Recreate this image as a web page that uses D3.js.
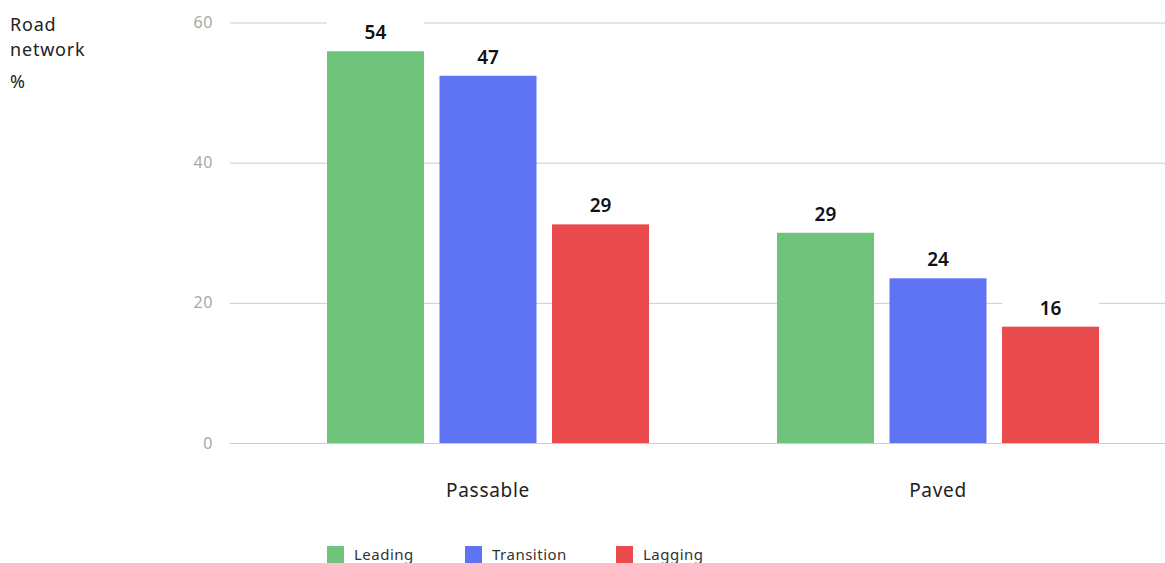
<!DOCTYPE html>
<html>
<head>
<meta charset="utf-8">
<script src="https://cdn.jsdelivr.net/npm/d3@7"></script>
<style>
  body { margin: 0; background: #fff; }
  text { font-family: "Noto Sans", Lato, sans-serif; }
</style>
</head>
<body>
<div id="container"></div>
<script>
/* DATA */
const categories = ["Passable", "Paved"];
const series = ["Leading", "Transition", "Lagging"];
// bar heights as drawn
const leading = [55.9, 30.0];
const transition = [52.4, 23.5];
const lagging = [31.2, 16.6];
// printed labels
const leadingLabels = ["54", "29"];
const transitionLabels = ["47", "24"];
const laggingLabels = ["29", "16"];
const yTicks = [0, 20, 40, 60];

const colors = ["#6fc37b", "#5f74f2", "#e94b4d"];

/* CONSTANTS */
const width = 1165, height = 563;
const margin = { top: 22.5, bottom: 120, left: 230, right: 0 };

const rows = [];
const seriesVals = [leading, transition, lagging];
const seriesLabels = [leadingLabels, transitionLabels, laggingLabels];
categories.forEach((c, i) => {
  series.forEach((s, j) => {
    rows.push({ cat: c, series: s, value: seriesVals[j][i], label: seriesLabels[j][i], color: colors[j] });
  });
});

const svg = d3.select("#container")
  .append("svg")
  .attr("width", width)
  .attr("height", height);

// SCALES
const yScale = d3.scaleLinear()
  .domain([0, 60])
  .range([443, margin.top]);

const xScale = d3.scaleBand()
  .domain(categories)
  .range([263, 1163]);

const xInner = d3.scaleBand()
  .domain(series)
  .range([64, xScale.bandwidth() - 64])
  .paddingInner(0.138)
  .paddingOuter(0);

// GRID + Y AXIS
const yAxis = d3.axisLeft(yScale)
  .tickValues(yTicks)
  .tickSize(-(width - margin.left))
  .tickPadding(17);

svg.append("g")
  .attr("class", "yAxis")
  .attr("transform", `translate(${margin.left}, 0)`)
  .call(yAxis)
  .call(g => g.select(".domain").remove())
  .call(g => g.selectAll("line").attr("stroke", "#cccccc").attr("stroke-width", 1))
  .call(g => g.selectAll("text")
    .attr("fill", "#a8a8a8")
    .attr("font-size", 16)
    .attr("letter-spacing", 0.6)
    .style("font-family", "'Noto Sans', sans-serif"));

// BARS
const groups = svg.selectAll(".group")
  .data(categories)
  .join("g")
  .attr("class", "group")
  .attr("transform", d => `translate(${xScale(d)}, 0)`);

groups.selectAll("rect.bar")
  .data(c => rows.filter(r => r.cat === c))
  .join("rect")
  .attr("class", "bar")
  .attr("x", d => xInner(d.series))
  .attr("y", d => yScale(d.value))
  .attr("width", xInner.bandwidth())
  .attr("height", d => yScale(0) - yScale(d.value))
  .attr("fill", d => d.color);

// label backgrounds
groups.selectAll("rect.lblbg")
  .data(c => rows.filter(r => r.cat === c))
  .join("rect")
  .attr("class", "lblbg")
  .attr("x", d => xInner(d.series))
  .attr("y", d => yScale(d.value) - 37)
  .attr("width", xInner.bandwidth())
  .attr("height", 35)
  .attr("fill", "#fff");

groups.selectAll("text.lbl")
  .data(c => rows.filter(r => r.cat === c))
  .join("text")
  .attr("class", "lbl")
  .attr("x", d => xInner(d.series) + xInner.bandwidth() / 2)
  .attr("y", d => yScale(d.value) - 12)
  .attr("text-anchor", "middle")
  .attr("font-size", 19)
  .attr("font-weight", 600)
  .attr("fill", "#111")
  .text(d => d.label);

// CATEGORY LABELS
svg.selectAll("text.cat")
  .data(categories)
  .join("text")
  .attr("class", "cat")
  .attr("x", d => xScale(d) + xScale.bandwidth() / 2)
  .attr("y", 497)
  .attr("text-anchor", "middle")
  .attr("font-size", 19)
  .attr("letter-spacing", 0.7)
  .attr("fill", "#222")
  .text(d => d);

// Y TITLE
const title = svg.append("g").attr("fill", "#222").attr("font-size", 18).attr("letter-spacing", 0.8);
title.append("text").attr("x", 10).attr("y", 31).text("Road");
title.append("text").attr("x", 10).attr("y", 56).text("network");
title.append("text").attr("x", 10).attr("y", 88).text("%");

// LEGEND
const legendX = [327, 465, 616];
const legend = svg.selectAll(".legend")
  .data(series)
  .join("g")
  .attr("class", "legend")
  .attr("transform", (d, i) => `translate(${legendX[i]}, 546)`);

legend.append("rect")
  .attr("width", 17)
  .attr("height", 17)
  .attr("fill", (d, i) => colors[i]);

legend.append("text")
  .attr("x", 27)
  .attr("y", 14)
  .attr("font-size", 15)
  .attr("letter-spacing", 0.5)
  .attr("fill", "#333")
  .text(d => d);
</script>
</body>
</html>
